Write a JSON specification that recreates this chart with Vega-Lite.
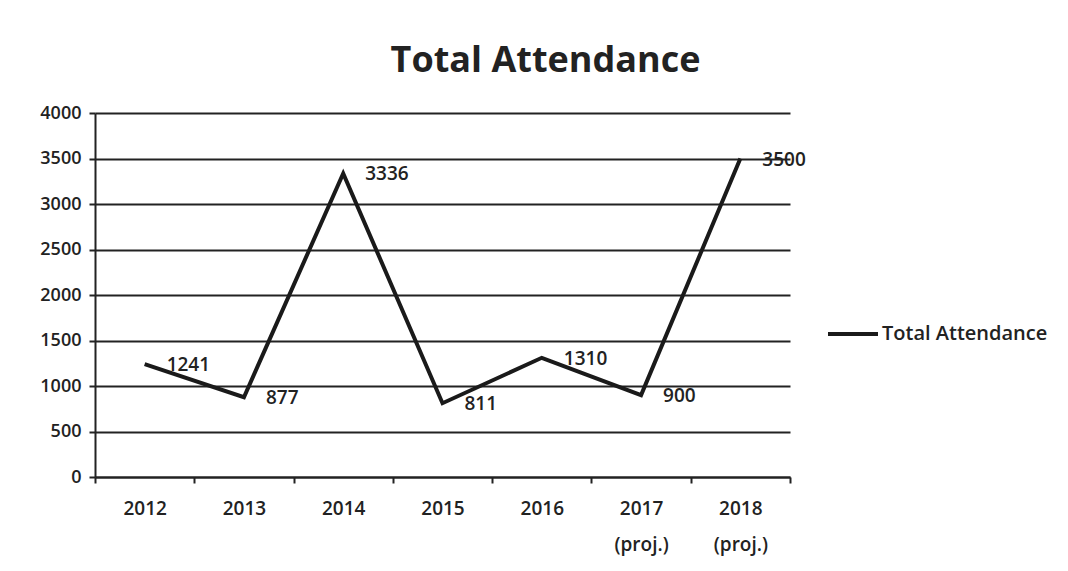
{
  "$schema": "https://vega.github.io/schema/vega-lite/v6.json",
  "autosize": {"type": "none"},
  "width": 695,
  "height": 364,
  "padding": {"left": 95, "top": 113, "right": 278, "bottom": 94},
  "background": "white",
  "config": {
    "view": {"stroke": null},
    "font": "Open Sans",
    "text": {"font": "Open Sans"}
  },
  "title": {
    "text": "Total Attendance",
    "font": "Open Sans",
    "fontSize": 36,
    "fontWeight": "bold",
    "color": "#222222",
    "anchor": "middle",
    "frame": "group",
    "dx": 103,
    "offset": 24
  },
  "data": {
    "values": [
      {"year": "2012", "attendance": 1241, "series": "Total Attendance"},
      {"year": "2013", "attendance": 877, "series": "Total Attendance"},
      {"year": "2014", "attendance": 3336, "series": "Total Attendance"},
      {"year": "2015", "attendance": 811, "series": "Total Attendance"},
      {"year": "2016", "attendance": 1310, "series": "Total Attendance"},
      {"year": "2017 (proj.)", "attendance": 900, "series": "Total Attendance"},
      {"year": "2018 (proj.)", "attendance": 3500, "series": "Total Attendance"}
    ]
  },
  "encoding": {
    "x": {
      "field": "year",
      "type": "nominal",
      "sort": null,
      "scale": {"paddingInner": 0, "paddingOuter": 0},
      "axis": {
        "title": null,
        "labelAngle": 0,
        "labelExpr": "split(datum.label, ' ')",
        "labelFont": "Open Sans",
        "labelFontSize": 19,
        "labelFontWeight": 600,
        "labelColor": "#222222",
        "labelPadding": 16,
        "labelLineHeight": 36,
        "domainColor": "#222222",
        "domainWidth": 2,
        "tickBand": "extent",
        "tickColor": "#222222",
        "tickWidth": 2,
        "tickSize": 6,
        "grid": false
      }
    },
    "y": {
      "field": "attendance",
      "type": "quantitative",
      "scale": {"domain": [0, 4000]},
      "axis": {
        "title": null,
        "values": [0, 500, 1000, 1500, 2000, 2500, 3000, 3500, 4000],
        "format": "d",
        "labelFont": "Open Sans",
        "labelFontSize": 18,
        "labelFontWeight": 600,
        "labelColor": "#222222",
        "labelPadding": 8,
        "domainColor": "#222222",
        "domainWidth": 2,
        "tickColor": "#222222",
        "tickWidth": 2,
        "tickSize": 6,
        "grid": true,
        "gridColor": "#222222",
        "gridWidth": 2
      }
    }
  },
  "layer": [
    {
      "mark": {"type": "line", "strokeWidth": 4, "color": "#1a1a1a"},
      "encoding": {
        "color": {
          "field": "series",
          "type": "nominal",
          "scale": {"range": ["#1a1a1a"]},
          "legend": {
            "title": null,
            "orient": "none",
            "legendX": 731,
            "legendY": 194,
            "symbolType": "stroke",
            "symbolSize": 2500,
            "symbolStrokeWidth": 4,
            "labelFont": "Open Sans",
            "labelFontSize": 20,
            "labelFontWeight": 600,
            "labelColor": "#222222",
            "labelOffset": 2,
            "labelLimit": 400
          }
        }
      }
    },
    {
      "mark": {
        "type": "text",
        "align": "left",
        "baseline": "middle",
        "dx": 22,
        "dy": 1,
        "fontSize": 19,
        "fontWeight": 600,
        "font": "Open Sans",
        "color": "#222222"
      },
      "encoding": {
        "text": {"field": "attendance", "type": "quantitative", "format": "d"}
      }
    }
  ]
}
